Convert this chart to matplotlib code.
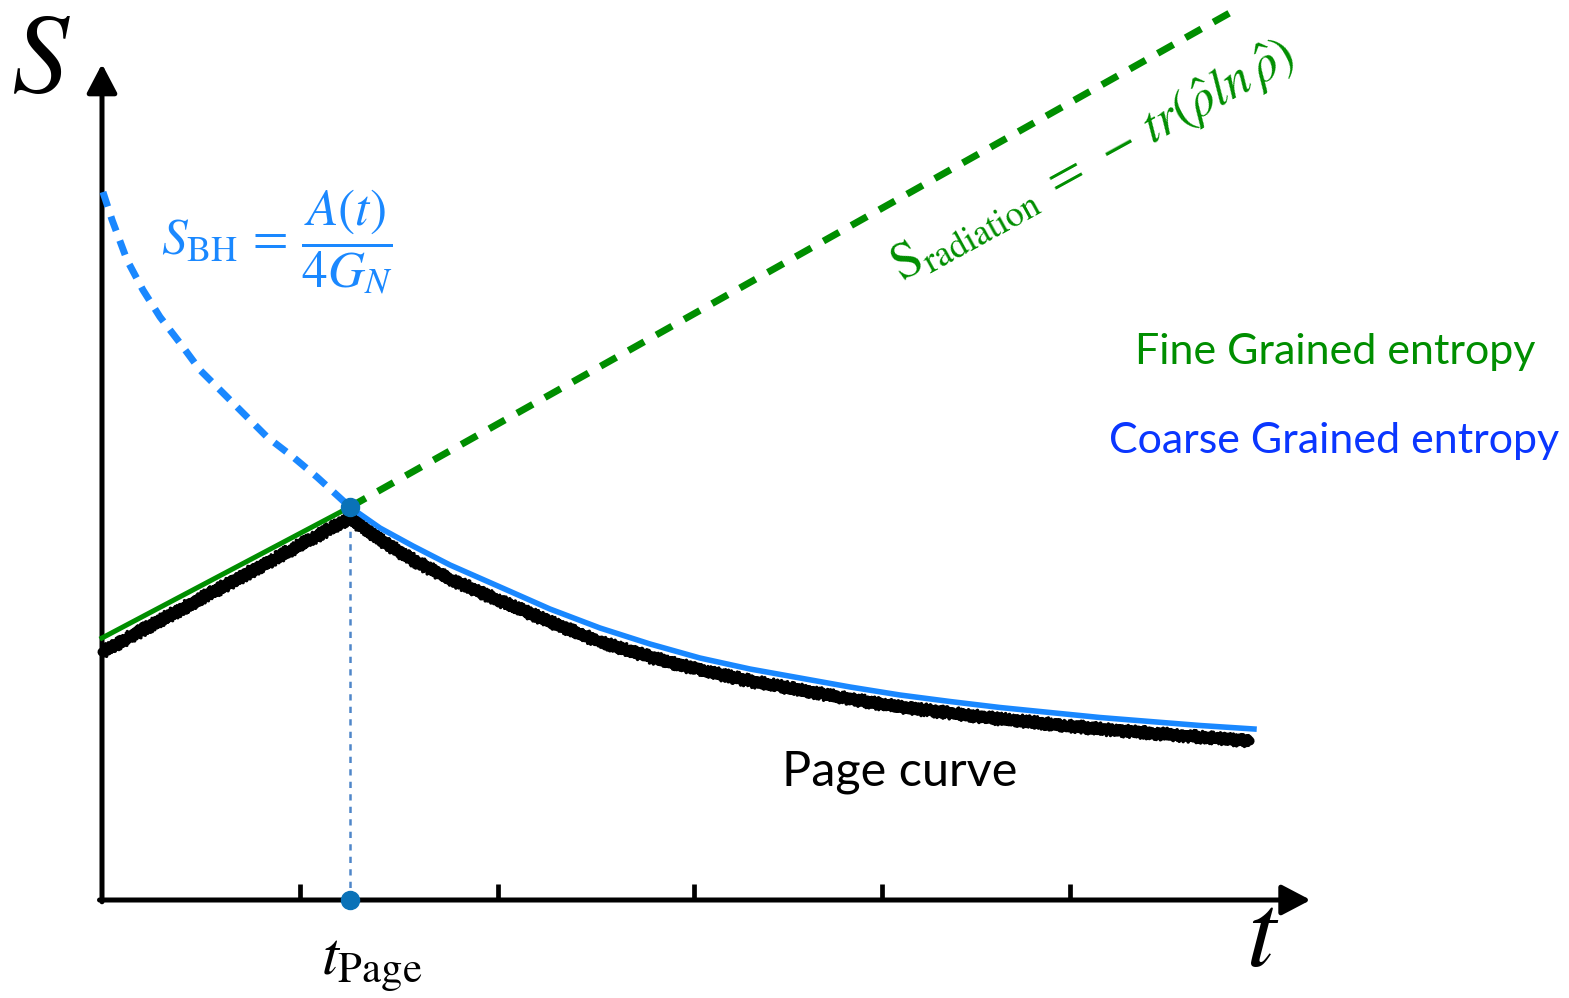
import matplotlib
matplotlib.use("Agg")
import matplotlib.pyplot as plt

plt.rcParams['mathtext.fontset'] = 'stix'

# schematic data (t in tick-ish units, S in arbitrary units)
t_page = 1.278
s_page = 3.93
tick_t = [1.02, 2.04, 3.05, 4.02, 4.99]

# fine grained entropy before Page time (green solid) and radiation entropy (green dashed)
green_t = [0.0, t_page]
green_s = [2.62, s_page]
rad_t = [t_page, 5.84]
rad_s = [s_page, 8.90]

# black hole entropy before Page time (blue dashed)
bh_early_t = [0.005, 0.052, 0.129, 0.211, 0.299, 0.402, 0.505, 0.624, 0.727, 0.851, 0.985, 1.108, t_page]
bh_early_s = [7.08, 6.80, 6.40, 6.10, 5.83, 5.57, 5.30, 5.07, 4.87, 4.63, 4.43, 4.23, s_page]

# black hole entropy after Page time (blue solid)
bh_late_t = [t_page, 1.433, 1.603, 1.794, 2.052, 2.309, 2.567, 2.825, 3.082, 3.340, 3.598,
             3.856, 4.113, 4.371, 4.629, 5.144, 5.660, 5.938]
bh_late_s = [s_page, 3.72, 3.54, 3.35, 3.13, 2.91, 2.72, 2.56, 2.42, 2.31, 2.22,
             2.13, 2.05, 1.985, 1.925, 1.825, 1.745, 1.71]

# Page curve (hand-drawn black)
page_t = [0.0, 0.64, t_page, 1.433, 1.603, 1.794, 2.052, 2.309, 2.567, 2.825, 3.082, 3.340,
          3.598, 3.856, 4.113, 4.371, 4.629, 5.144, 5.660, 5.918]
page_s = [2.48, 3.15, 3.82, 3.60, 3.40, 3.21, 2.99, 2.78, 2.58, 2.43, 2.30, 2.19,
          2.10, 2.01, 1.93, 1.87, 1.81, 1.71, 1.63, 1.59]

fig = plt.figure(figsize=(15.69, 9.98), dpi=100)
ax = fig.add_axes([0, 0, 1, 1])
ax.set_xlim(-102 / 194, (1569 - 102) / 194)
ax.set_ylim(-98 / 100, 900 / 100)
ax.axis('off')

# axes with arrows
arrow = dict(arrowstyle='-|>,head_length=0.8,head_width=0.42', lw=3.6, color='black',
             mutation_scale=22, shrinkA=0, shrinkB=0)
ax.annotate('', xy=(6.23, 0), xytext=(-0.013, 0), arrowprops=arrow)
ax.annotate('', xy=(0, 8.36), xytext=(0, -0.018), arrowprops=arrow)
ax.vlines(tick_t, 0, 0.16, color='black', lw=3.4)

# curves
l1, = ax.plot(page_t, page_s, color='black', lw=6.5, solid_capstyle='round', zorder=3)
l1.set_sketch_params(2.0, 2, 3)
l2, = ax.plot(page_t, page_s, color='black', lw=2.5, zorder=3)
l2.set_sketch_params(6, 3, 3)
l3, = ax.plot(page_t, page_s, color='black', lw=2.0, zorder=3)
l3.set_sketch_params(5.5, 5, 2)
ax.plot(green_t, green_s, color='#008e00', lw=3.6, zorder=4)
ax.plot(rad_t, rad_s, color='#008e00', lw=5.0, ls=(0, (2.6, 2.0)), zorder=4)
ax.plot(bh_early_t, bh_early_s, color='#1a88ff', lw=5.0, ls=(0, (2.2, 1.5)), zorder=4)
ax.plot(bh_late_t, bh_late_s, color='#1a88ff', lw=4.0, zorder=4)

ax.vlines(t_page, 0, s_page, color='#4f86c9', lw=1.8, ls=(0, (2.5, 2.5)), zorder=2)
ax.plot([t_page, t_page], [s_page, 0], 'o', color='#0a72b8', ms=13, zorder=5)

# labels
ax.text(-0.32, 8.35, 'S', fontsize=82, family='STIXGeneral', style='italic',
        ha='center', va='center')
ax.text(5.98, -0.40, 't', fontsize=76, family='STIXGeneral', style='italic',
        ha='center', va='center')
ax.text(1.39, -0.64, r'$t_{\mathrm{Page}}$', fontsize=44, ha='center', va='center')
ax.text(0.90, 6.58, r'$S_{\mathrm{BH}}\,=\,\dfrac{A(t)}{4G_N}$', fontsize=37,
        color='#1a88ff', ha='center', va='center')
ax.text(5.11, 7.38, r'$\mathrm{S}_{\mathrm{radiation}}\;=\;-\,tr(\hat{\rho}ln\,\hat{\rho})$',
        fontsize=37, color='#008e00', ha='center', va='center',
        rotation=28.8, rotation_mode='anchor')
ax.text(6.356, 5.48, 'Fine Grained entropy', fontsize=31, family='Lato',
        color='#008e00', ha='center', va='center')
ax.text(6.35, 4.59, 'Coarse Grained entropy', fontsize=31, family='Lato',
        color='#0a36ff', ha='center', va='center')
ax.text(4.113, 1.28, 'Page curve', fontsize=35, family='Lato',
        color='black', ha='center', va='center')

fig.savefig('out.png', dpi=100)
